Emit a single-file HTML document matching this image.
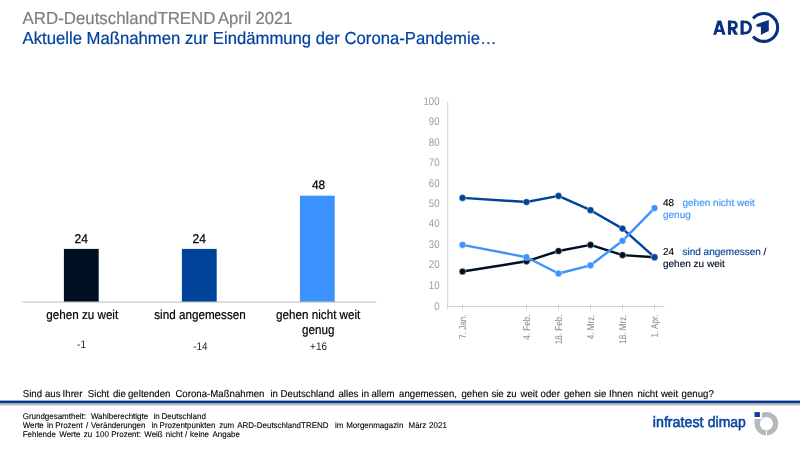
<!DOCTYPE html>
<html><head><meta charset="utf-8">
<style>
html,body{margin:0;padding:0;background:#fff;}
body{width:800px;height:450px;overflow:hidden;font-family:"Liberation Sans",sans-serif;}
svg{display:block;position:absolute;left:0;top:0;will-change:transform;}
text{font-family:"Liberation Sans",sans-serif;text-rendering:geometricPrecision;}
</style></head><body>
<svg width="800" height="450" viewBox="0 0 800 450">
<rect width="800" height="450" fill="#fff"/>

<g stroke-width="0.2">
<g stroke="#7f7f7f">
<g font-size="17.4" fill="#7f7f7f">
<text transform="translate(22.6 23.6) scale(0.9684 1)">ARD-DeutschlandTREND</text>
</g>
<g font-size="17.4" fill="#7f7f7f">
<text transform="translate(218.0 23.6) scale(0.9569 1)">April</text>
<text transform="translate(255.4 23.6) scale(0.9569 1)">2021</text>
</g>
</g>
<g stroke="#0041a0">
<g font-size="17.4" fill="#0041a0">
<text transform="translate(22.6 43.9) scale(0.9598 1)">Aktuelle Maßnahmen zur Eindämmung der Corona-Pandemie…</text>
</g>
</g>
</g>
<defs><clipPath id="capclip"><rect x="700" y="20.4" width="60" height="14.3"/></clipPath></defs>
<g clip-path="url(#capclip)" fill="none" stroke="#0a3080" stroke-width="3.2" stroke-linejoin="miter" stroke-miterlimit="10">
<path d="M714.3 36.2 L719.35 19.6 L724.4 36.2" stroke-width="3.0"/>
<path d="M716.3 30.8 H722.4" stroke-width="2.5"/>
<path d="M729.5 19 V36"/>
<path d="M729.5 21.9 H733.1 a3.3 3.3 0 0 1 0 6.6 H729.5" stroke-width="2.8"/>
<path d="M732.4 28 L737 36" stroke-width="3.2"/>
<path d="M742.1 19 V36"/>
<path d="M742.1 21.9 H745.2 a5.4 5.65 0 0 1 0 11.3 H742.1" stroke-width="2.8"/>
</g>
<path d="M753.1 18.4 A13.95 13.95 0 1 1 753.1 36.5" fill="none" stroke="#0a3080" stroke-width="3.1"/>
<polygon fill="#0a3080" points="756.5,24.3 768.8,19.9 768.8,31 760.9,34.9 760.9,26.8 756.5,26.8"/>
<rect x="63.9" y="248.9" width="34.8" height="53.1" fill="#001022"/>
<rect x="181.9" y="248.9" width="34.8" height="53.1" fill="#004499"/>
<rect x="299.9" y="195.7" width="34.8" height="106.3" fill="#3c93ff"/>
<rect x="22.5" y="301.5" width="354" height="1.1" fill="#c2c2c2"/>
<g font-size="12.8" fill="#000" stroke="#000" stroke-width="0.25" text-anchor="middle">
<text transform="translate(81.3 242.9) scale(0.94 1)">24</text>
<text transform="translate(199.3 242.9) scale(0.94 1)">24</text>
<text font-size="12.4" transform="translate(318.5 189.2) scale(0.96 1)">48</text>
</g>
<g font-size="12.9" fill="#000" stroke="#000" stroke-width="0.2" text-anchor="middle">
<text transform="translate(82.2 319) scale(0.905 1)">gehen zu weit</text>
<text transform="translate(200 319) scale(0.905 1)">sind angemessen</text>
<text transform="translate(318.2 319) scale(0.905 1)">gehen nicht weit</text>
<text transform="translate(318.2 333.5) scale(0.905 1)">genug</text>
</g>
<g font-size="11" fill="#1a1a1a" text-anchor="middle">
<text transform="translate(81.5 348) scale(0.9 1)">-1</text>
<text transform="translate(200.3 349.8) scale(0.9 1)">-14</text>
<text transform="translate(318.5 349.8) scale(0.9 1)">+16</text>
</g>
<g stroke="#cfcfcf" stroke-width="1" fill="none">
<path d="M447.7 101.5 V308.9"/>
<path d="M447.2 306.4 H664.4"/>
<path d="M462.5 304.09999999999997 V308.9 M526.5 304.09999999999997 V308.9 M558.5 304.09999999999997 V308.9 M590.5 304.09999999999997 V308.9 M622.5 304.09999999999997 V308.9 M654.5 304.09999999999997 V308.9"/>
</g>
<g font-size="11" fill="#9c9c9c" text-anchor="end">
<text transform="translate(439.6 104.8) scale(0.88 1)">100</text>
<text transform="translate(439.6 125.2) scale(0.88 1)">90</text>
<text transform="translate(439.6 145.7) scale(0.88 1)">80</text>
<text transform="translate(439.6 166.1) scale(0.88 1)">70</text>
<text transform="translate(439.6 186.5) scale(0.88 1)">60</text>
<text transform="translate(439.6 206.9) scale(0.88 1)">50</text>
<text transform="translate(439.6 227.4) scale(0.88 1)">40</text>
<text transform="translate(439.6 247.8) scale(0.88 1)">30</text>
<text transform="translate(439.6 268.2) scale(0.88 1)">20</text>
<text transform="translate(439.6 288.7) scale(0.88 1)">10</text>
<text transform="translate(439.6 309.70000000000005) scale(0.88 1)">0</text>
</g>
<g font-size="9.8" fill="#939393" stroke="#939393" stroke-width="0.12" text-anchor="end">
<text transform="translate(466.0 314.6) rotate(-90) scale(0.822 1)">7. Jan.</text>
<text transform="translate(530.0 314.6) rotate(-90) scale(0.822 1)">4. Feb.</text>
<text transform="translate(562.0 314.6) rotate(-90) scale(0.822 1)">18. Feb.</text>
<text transform="translate(594.0 314.6) rotate(-90) scale(0.822 1)">4. Mrz.</text>
<text transform="translate(626.0 314.6) rotate(-90) scale(0.822 1)">18. Mrz.</text>
<text transform="translate(658.0 314.6) rotate(-90) scale(0.822 1)">1. Apr.</text>
</g>
<g fill="none" stroke-width="2.4" stroke-linejoin="round" stroke-linecap="round">
<polyline stroke="#001022" points="462.5,271.5 526.5,261.3 558.5,251.0 590.5,244.9 622.5,255.1 654.5,257.2"/>
<polyline stroke="#004499" points="462.5,197.9 526.5,202.0 558.5,195.9 590.5,210.2 622.5,228.6 654.5,257.2"/>
<polyline stroke="#3c93ff" points="462.5,244.9 526.5,257.2 558.5,273.5 590.5,265.3 622.5,240.8 654.5,208.1"/>
</g>
<g fill="#001022" stroke="#fff" stroke-opacity="0.5" stroke-width="0.8"><circle cx="462.5" cy="271.5" r="3.35"/><circle cx="526.5" cy="261.3" r="3.35"/><circle cx="558.5" cy="251.0" r="3.35"/><circle cx="590.5" cy="244.9" r="3.35"/><circle cx="622.5" cy="255.1" r="3.35"/><circle cx="654.5" cy="257.2" r="3.35"/></g>
<g fill="#004499" stroke="#fff" stroke-opacity="0.5" stroke-width="0.8"><circle cx="462.5" cy="197.9" r="3.35"/><circle cx="526.5" cy="202.0" r="3.35"/><circle cx="558.5" cy="195.9" r="3.35"/><circle cx="590.5" cy="210.2" r="3.35"/><circle cx="622.5" cy="228.6" r="3.35"/><circle cx="654.5" cy="257.2" r="3.35"/></g>
<g fill="#3c93ff" stroke="#fff" stroke-opacity="0.5" stroke-width="0.8"><circle cx="462.5" cy="244.9" r="3.35"/><circle cx="526.5" cy="257.2" r="3.35"/><circle cx="558.5" cy="273.5" r="3.35"/><circle cx="590.5" cy="265.3" r="3.35"/><circle cx="622.5" cy="240.8" r="3.35"/><circle cx="654.5" cy="208.1" r="3.35"/></g>
<g font-size="10" stroke-width="0.15">
<text x="663" y="206.1" fill="#000" stroke="#000">48</text>
<text x="682.5" y="206.1" fill="#3c93ff" stroke="#3c93ff">gehen nicht weit</text>
<text x="663" y="217.6" fill="#3c93ff" stroke="#3c93ff">genug</text>
<text x="663" y="255.4" fill="#000" stroke="#000">24</text>
<text x="682.5" y="255.4" fill="#004499" stroke="#004499">sind angemessen</text>
<text x="763.4" y="255.4" fill="#001022" stroke="#001022">/</text>
<text x="663" y="266.7" fill="#001022" stroke="#001022">gehen zu weit</text>
</g>
<g font-size="10" fill="#000" stroke="#000" stroke-width="0.12">
<text transform="translate(22.7 397) scale(0.965 1)">Sind</text>
<text transform="translate(44.9 397) scale(0.965 1)">aus</text>
<text transform="translate(62.6 397) scale(0.965 1)">Ihrer</text>
<text transform="translate(87.8 397) scale(0.965 1)">Sicht</text>
<text transform="translate(113 397) scale(0.965 1)">die</text>
<text transform="translate(128 397) scale(0.965 1)">geltenden</text>
<text transform="translate(175.4 397) scale(0.965 1)">Corona-Maßnahmen</text>
<text transform="translate(270.4 397) scale(0.965 1)">in</text>
<text transform="translate(280.6 397) scale(0.965 1)">Deutschland</text>
<text transform="translate(338.5 397) scale(0.965 1)">alles</text>
<text transform="translate(361.6 397) scale(0.965 1)">in</text>
<text transform="translate(371.5 397) scale(0.965 1)">allem</text>
<text transform="translate(399.1 397) scale(0.965 1)">angemessen,</text>
<text transform="translate(461.5 397) scale(0.965 1)">gehen</text>
<text transform="translate(491.4 397) scale(0.965 1)">sie</text>
<text transform="translate(506.4 397) scale(0.965 1)">zu</text>
<text transform="translate(520.5 397) scale(0.965 1)">weit</text>
<text transform="translate(540.6 397) scale(0.965 1)">oder</text>
<text transform="translate(564 397) scale(0.965 1)">gehen</text>
<text transform="translate(594 397) scale(0.965 1)">sie</text>
<text transform="translate(609 397) scale(0.965 1)">Ihnen</text>
<text transform="translate(637.5 397) scale(0.965 1)">nicht</text>
<text transform="translate(660.9 397) scale(0.965 1)">weit</text>
<text transform="translate(681.6 397) scale(0.965 1)">genug?</text>
</g>
<rect x="0" y="400" width="800" height="1" fill="#93b2dd" shape-rendering="crispEdges"/>
<rect x="0" y="401" width="800" height="1" fill="#002f8c" shape-rendering="crispEdges"/>
<rect x="0" y="402" width="800" height="1" fill="#0d3d96" shape-rendering="crispEdges"/>
<rect x="0" y="403" width="800" height="1" fill="#9aa3b3" shape-rendering="crispEdges"/>
<rect x="0" y="404" width="800" height="1" fill="#b9b9b9" shape-rendering="crispEdges"/>
<rect x="0" y="405" width="800" height="1" fill="#e0e0e0" shape-rendering="crispEdges"/>
<g font-size="8.3" fill="#000" stroke="#000" stroke-width="0.1">
<text transform="translate(22.7 419.3) scale(0.96 1)">Grundgesamtheit:</text>
<text transform="translate(90.9 419.3) scale(0.96 1)">Wahlberechtigte</text>
<text transform="translate(153.4 419.3) scale(0.96 1)">in</text>
<text transform="translate(161.6 419.3) scale(0.96 1)">Deutschland</text>
</g>
<g font-size="8.3" fill="#000" stroke="#000" stroke-width="0.1">
<text transform="translate(22.7 428.2) scale(0.96 1)">Werte</text>
<text transform="translate(47 428.2) scale(0.96 1)">in</text>
<text transform="translate(55.2 428.2) scale(0.96 1)">Prozent</text>
<text transform="translate(86 428.2) scale(0.96 1)">/</text>
<text transform="translate(91 428.2) scale(0.96 1)">Veränderungen</text>
<text transform="translate(151.5 428.2) scale(0.96 1)">in</text>
<text transform="translate(159.6 428.2) scale(0.96 1)">Prozentpunkten</text>
<text transform="translate(219.2 428.2) scale(0.96 1)">zum</text>
<text transform="translate(237.3 428.2) scale(0.96 1)">ARD-DeutschlandTREND</text>
<text transform="translate(335 428.2) scale(0.96 1)">im</text>
<text transform="translate(346.2 428.2) scale(0.96 1)">Morgenmagazin</text>
<text transform="translate(408.5 428.2) scale(0.96 1)">März</text>
<text transform="translate(429.1 428.2) scale(0.96 1)">2021</text>
</g>
<g font-size="8.3" fill="#000" stroke="#000" stroke-width="0.1">
<text transform="translate(22.7 437.1) scale(0.96 1)">Fehlende</text>
<text transform="translate(59.3 437.1) scale(0.96 1)">Werte</text>
<text transform="translate(83.8 437.1) scale(0.96 1)">zu</text>
<text transform="translate(95.6 437.1) scale(0.96 1)">100</text>
<text transform="translate(111.3 437.1) scale(0.96 1)">Prozent:</text>
<text transform="translate(144.3 437.1) scale(0.96 1)">Weiß</text>
<text transform="translate(165.8 437.1) scale(0.96 1)">nicht</text>
<text transform="translate(185 437.1) scale(0.96 1)">/</text>
<text transform="translate(190 437.1) scale(0.96 1)">keine</text>
<text transform="translate(212.5 437.1) scale(0.96 1)">Angabe</text>
</g>
<g font-size="15" fill="#0a46a0" stroke="#0a46a0" stroke-width="0.55">
<text transform="translate(652.8 426.6) scale(0.95 1)">infratest</text>
<text transform="translate(707.8 426.6) scale(0.93 1)">dimap</text>
</g>
<g>
<circle cx="766.4" cy="423.7" r="9.2" fill="none" stroke="#b4b9be" stroke-width="5.2"/>
<rect x="752" y="410" width="10" height="9" fill="#fff"/>
<rect x="754.6" y="419" width="5.2" height="5" fill="#b4b9be"/>
<rect x="765.9" y="429" width="1" height="8" fill="#fff"/>
<rect x="754.5" y="412.1" width="5.4" height="4.9" fill="#0a3f9a"/>
</g>
</svg>
</body></html>
